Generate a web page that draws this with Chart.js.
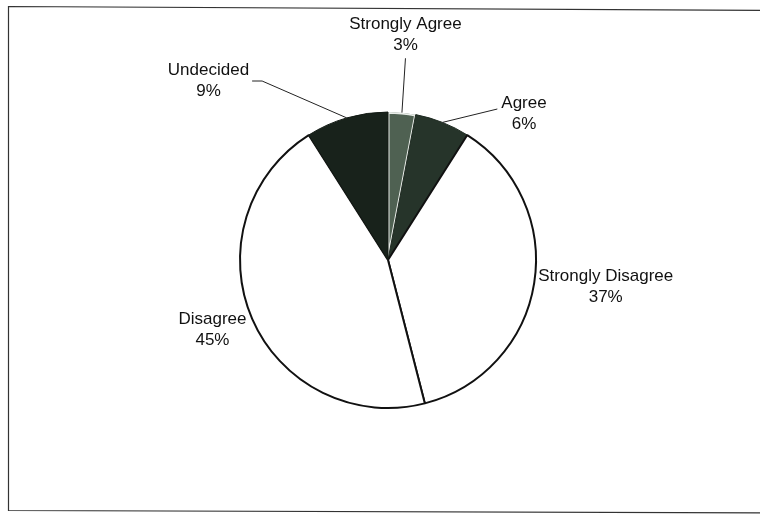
<!DOCTYPE html>
<html>
<head>
<meta charset="UTF-8">
<title>Opinion pie</title>
<script src="https://cdn.jsdelivr.net/npm/chart.js"></script>
<style>
  html, body { margin: 0; padding: 0; background: #fff; overflow: hidden; }
  canvas { display: block; }
</style>
</head>
<body>
<canvas id="pie" width="760" height="514"></canvas>
<script>
// data, clockwise from 12 o'clock
const categories = ['Strongly Agree', 'Agree', 'Strongly Disagree', 'Disagree', 'Undecided'];
const percents = [3, 6, 37, 45, 9];

const fills = ['#4f6152', '#26342a', '#ffffff', '#ffffff', '#18221b'];
const borders = ['#e8ece8', '#1e2a21', '#111111', '#111111', '#121a14'];

// label anchor (centre x, first baseline) relative to pie centre, in radii; leader side
const labelLayout = [
  { dx: 0.118, dy: -1.559, leader: 'below' },
  { dx: 0.919, dy: -1.027, leader: 'left' },
  { dx: 1.471, dy: 0.142, leader: null },
  { dx: -1.186, dy: 0.432, leader: null },
  { dx: -1.213, dy: -1.25, leader: 'right' }
];

// scanned page frame: top, left and bottom edges only
const framePlugin = {
  id: 'frame',
  beforeDraw(chart) {
    const ctx = chart.ctx;
    ctx.save();
    ctx.strokeStyle = '#333';
    ctx.lineWidth = 1.2;
    ctx.beginPath();
    ctx.moveTo(770, 10.5);
    ctx.lineTo(8.5, 6.5);
    ctx.lineTo(8.5, 510.5);
    ctx.lineTo(770, 513);
    ctx.stroke();
    ctx.restore();
  }
};

const labelPlugin = {
  id: 'pieLabels',
  afterDatasetsDraw(chart) {
    const ctx = chart.ctx;
    const arcs = chart.getDatasetMeta(0).data;
    ctx.save();
    ctx.font = '17px "Liberation Sans", Arial, sans-serif';
    ctx.fillStyle = '#111';
    ctx.strokeStyle = '#222';
    ctx.lineWidth = 1;
    ctx.textAlign = 'center';
    ctx.textBaseline = 'alphabetic';
    arcs.forEach((arc, i) => {
      const p = arc.getProps(['x', 'y', 'startAngle', 'endAngle', 'outerRadius'], true);
      const r = p.outerRadius;
      const lay = labelLayout[i];
      const lx = p.x + lay.dx * r;
      const ly = p.y + lay.dy * r;
      const line1 = categories[i];
      const line2 = percents[i] + '%';
      ctx.fillText(line1, lx, ly);
      ctx.fillText(line2, lx, ly + 21);
      if (lay.leader) {
        const mid = (p.startAngle + p.endAngle) / 2;
        const ex = p.x + Math.cos(mid) * r;
        const ey = p.y + Math.sin(mid) * r;
        const w = ctx.measureText(line1).width;
        ctx.beginPath();
        if (lay.leader === 'below') {
          ctx.moveTo(lx, ly + 29);
          ctx.lineTo(ex, ey);
        } else if (lay.leader === 'left') {
          ctx.moveTo(lx - w / 2 - 4, ly + 1);
          ctx.lineTo(ex, ey);
        } else {
          ctx.moveTo(lx + w / 2 + 3, ly + 6);
          ctx.lineTo(lx + w / 2 + 13, ly + 6);
          ctx.lineTo(ex, ey);
        }
        ctx.stroke();
      }
    });
    ctx.restore();
  }
};

new Chart(document.getElementById('pie'), {
  type: 'pie',
  data: {
    labels: categories,
    datasets: [{
      data: percents,
      backgroundColor: fills,
      borderColor: borders,
      borderWidth: [1.5, 1, 2, 2, 1],
      borderAlign: ['inner', 'center', 'center', 'center', 'center']
    }]
  },
  options: {
    responsive: false,
    animation: false,
    layout: { padding: { top: 111, bottom: 105, left: 239, right: 223 } },
    plugins: {
      legend: { display: false },
      tooltip: { enabled: false }
    }
  },
  plugins: [framePlugin, labelPlugin]
});
</script>
</body>
</html>
